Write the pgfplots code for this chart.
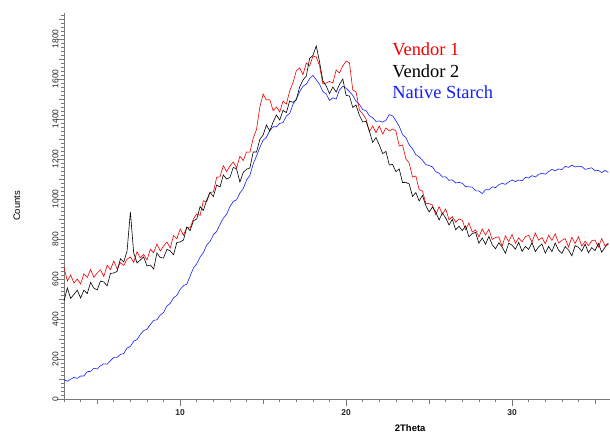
\documentclass[border=0pt]{standalone}
\usepackage{fontspec}
\setmainfont{Liberation Serif}
\setsansfont{Liberation Sans}
\usepackage{pgfplots}
\usepackage{pgfplotstable}
\pgfplotsset{compat=1.18}

\definecolor{axisgray}{RGB}{120,120,120}
\definecolor{vone}{RGB}{240,0,0}
\definecolor{vtwo}{RGB}{0,0,0}
\definecolor{nat}{RGB}{20,30,255}

% XRD patterns, counts vs 2theta
\pgfplotstableread{
t v1 v2 ns
3.0 660 490 96
3.2 590 555 89
3.4 620 503 99
3.6 580 523 108
3.8 600 544 103
4.0 575 505 115
4.2 626 544 115
4.4 607 527 137
4.6 648 583 138
4.8 609 554 154
5.0 630 545 150
5.2 646 590 166
5.4 612 585 176
5.6 669 566 174
5.8 647 628 192
6.0 690 630 208
6.2 651 638 208
6.4 682 701 223
6.6 668 685 227
6.8 699 740 255
7.0 710 935 263
7.2 683 730 289
7.4 736 680 297
7.6 706 695 323
7.8 723 710 342
8.0 695 665 349
8.2 748 670 372
8.4 731 650 393
8.6 775 730 396
8.8 740 707 420
9.0 765 705 432
9.2 785 748 465
9.4 755 741 478
9.6 817 721 506
9.8 801 783 518
10.0 850 785 548
10.2 819 795 567
10.4 858 860 574
10.6 855 842 615
10.8 900 891 655
11.0 925 900 676
11.2 918 962 710
11.4 991 943 732
11.6 986 995 770
11.8 1033 1033 788
12.0 1035 1012 821
12.2 1108 1070 838
12.4 1111 1060 873
12.6 1167 1120 904
12.8 1136 1100 924
13.0 1165 1108 962
13.2 1185 1158 988
13.4 1155 1150 996
13.6 1214 1085 1030
13.8 1192 1133 1052
14.0 1235 1149 1095
14.2 1234 1155 1118
14.4 1303 1235 1176
14.6 1348 1235 1215
14.8 1460 1298 1258
15.0 1525 1320 1294
15.2 1495 1370 1309
15.4 1497 1340 1342
15.6 1442 1385 1361
15.8 1460 1420 1361
16.0 1435 1395 1378
16.2 1490 1443 1382
16.4 1475 1432 1415
16.6 1540 1490 1428
16.8 1582 1483 1474
17.0 1642 1497 1500
17.2 1655 1560 1536
17.4 1622 1595 1564
17.6 1680 1615 1574
17.8 1665 1703 1602
18.0 1715 1718 1618
18.2 1710 1765 1596
18.4 1665 1685 1573
18.6 1575 1590 1537
18.8 1580 1565 1525
19.0 1588 1527 1493
19.2 1580 1560 1506
19.4 1645 1535 1500
19.6 1630 1573 1545
19.8 1665 1600 1564
20.0 1690 1518 1554
20.2 1680 1515 1537
20.4 1545 1458 1518
20.6 1535 1470 1488
20.8 1445 1418 1473
21.0 1425 1385 1447
21.2 1400 1388 1442
21.4 1337 1340 1416
21.6 1365 1283 1406
21.8 1332 1307 1388
22.0 1365 1270 1390
22.2 1325 1227 1384
22.4 1355 1238 1394
22.6 1340 1170 1422
22.8 1350 1173 1416
23.0 1340 1137 1391
23.2 1265 1150 1363
23.4 1270 1082 1322
23.6 1200 1083 1307
23.8 1180 1075 1271
24.0 1110 1013 1251
24.2 1115 1032 1222
24.4 1047 990 1211
24.6 1040 1018 1194
24.8 978 967 1172
25.0 977 935 1167
25.2 970 960 1161
25.4 921 935 1136
25.6 962 895 1129
25.8 924 930 1110
26.0 950 905 1111
26.2 896 870 1093
26.4 912 898 1096
26.6 884 846 1080
26.8 900 864 1083
27.0 893 842 1079
27.2 846 865 1061
27.4 880 811 1061
27.6 835 827 1059
27.8 845 833 1041
28.0 810 779 1040
28.2 850 805 1027
28.4 820 774 1047
28.6 849 813 1046
28.8 798 772 1061
29.0 807 751 1057
29.2 811 781 1071
29.4 765 760 1079
29.6 816 729 1073
29.8 787 779 1085
30.0 823 769 1095
30.2 779 749 1087
30.4 805 783 1095
30.6 786 738 1091
30.8 812 763 1108
31.0 818 748 1105
31.2 784 782 1117
31.4 830 737 1110
31.6 794 761 1123
31.8 807 775 1129
32.0 776 729 1124
32.2 819 763 1137
32.4 793 737 1148
32.6 826 780 1141
32.8 780 744 1150
33.0 793 728 1147
33.2 802 762 1163
33.4 760 745 1158
33.6 809 716 1169
33.8 778 767 1160
34.0 811 758 1164
34.2 765 739 1162
34.4 789 775 1148
34.6 767 731 1152
34.8 791 757 1156
35.0 795 742 1141
35.2 759 778 1143
35.4 802 734 1132
35.6 766 759 1143
35.8 780 775 1133
}\xrd

\begin{document}
\begin{tikzpicture}
\begin{axis}[
    scale only axis,
    width=546bp, height=386bp,
    xmin=3, xmax=35.9,
    ymin=0, ymax=1930,
    axis x line=bottom, axis y line=left,
    axis line style={-, axisgray, line width=0.8bp},
    tick align=outside,
    tick style={axisgray, line width=0.6bp},
    major tick length=7bp, minor tick length=3bp,
    xtick={10,20,30}, minor xtick={3,4,...,35},
    ytick={0,200,...,1800}, minor ytick={0,20,...,1920},
    extra x ticks={5,15,25,35}, extra x tick labels={},
    extra x tick style={major tick length=5bp},
    extra y ticks={100,300,...,1900}, extra y tick labels={},
    extra y tick style={major tick length=5bp},
    /pgf/number format/assume math mode=true,
    /pgf/number format/set thousands separator={},
    xticklabel style={font=\sffamily\bfseries\fontsize{8.5}{10}\selectfont, text=black!85},
    yticklabel style={font=\sffamily\fontsize{8.5}{10}\selectfont, text=black!85, rotate=90, anchor=south},
    yticklabel shift=-5bp,
    xlabel={2Theta}, ylabel={Counts},
    every axis x label/.style={at={(axis cs:23.86,0)}, anchor=center, yshift=-29bp,
        font=\sffamily\bfseries\fontsize{9.5}{11}\selectfont},
    every axis y label/.style={at={(axis description cs:-0.0861,0.5)}, rotate=90, anchor=center,
        font=\sffamily\fontsize{9.5}{11}\selectfont},
    clip=false,
]
\addplot[nat, line width=0.6bp] table[x=t, y=ns] {\xrd};
\addplot[vone, line width=0.6bp] table[x=t, y=v1] {\xrd};
\addplot[vtwo, line width=0.6bp] table[x=t, y=v2] {\xrd};

\node[anchor=base west, text=vone, font=\fontsize{18.5}{21}\selectfont, inner sep=0pt] at (axis cs:22.77,1717) {Vendor 1};
\node[anchor=base west, text=vtwo, font=\fontsize{18.5}{21}\selectfont, inner sep=0pt] at (axis cs:22.77,1608) {Vendor 2};
\node[anchor=base west, text=nat, font=\fontsize{18.5}{21}\selectfont, inner sep=0pt] at (axis cs:22.77,1500) {Native Starch};
\end{axis}
\pgfresetboundingbox
\path[use as bounding box] (-64bp,-33bp) rectangle (546bp,399bp);
\end{tikzpicture}
\end{document}
